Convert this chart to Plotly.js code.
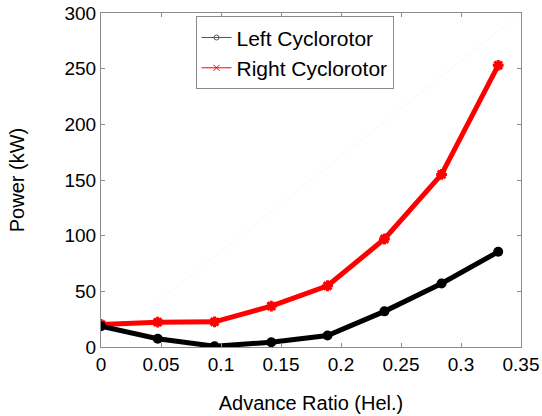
<!DOCTYPE html>
<html><head><meta charset="utf-8">
<script src="https://cdn.plot.ly/plotly-3.0.1.min.js"></script>
<style>html,body{margin:0;padding:0;background:#fff}#chart{width:542px;height:416px}</style>
</head><body><div id="chart"></div>
<script>
const advanceRatio = [0, 0.0473, 0.0946, 0.1419, 0.1888, 0.2362, 0.2838, 0.3310];
const leftPower  = [18.7, 7.4, 0.7, 4.3, 10.3, 32, 57, 85.5];
const rightPower = [20.2, 22.3, 22.6, 36.7, 55, 97, 155, 253];
const xTicks = [0, 0.05, 0.1, 0.15, 0.2, 0.25, 0.3, 0.35];
const xTickLabels = ['0', '0.05', '0.1', '0.15', '0.2', '0.25', '0.3', '0.35'];
const yTicks = [0, 50, 100, 150, 200, 250, 300];

const fam = 'Liberation Sans, Arial, Helvetica, sans-serif';
const tickFont = {family: fam, size: 19, color: '#000'};
const titleFont = {family: fam, size: 20, color: '#000'};
const legendFont = {family: fam, size: 21, color: '#000'};
const traces = [
  {x: advanceRatio, y: rightPower, mode: 'lines+markers', showlegend: false,
   line: {color: '#ff0000', width: 5}, marker: {symbol: 'asterisk', size: 9, color: '#ff0000', line: {color: '#ff0000', width: 3}}},
  {x: advanceRatio, y: leftPower, mode: 'lines+markers', showlegend: false,
   line: {color: '#000000', width: 5}, marker: {symbol: 'circle', size: 10, color: '#000000'}},
  {x: [null], y: [null], mode: 'lines+markers', name: 'Left Cyclorotor',
   line: {color: '#555', width: 1}, marker: {symbol: 'circle-open', size: 5, color: '#555', line: {width: 1}}},
  {x: [null], y: [null], mode: 'lines+markers', name: 'Right Cyclorotor',
   line: {color: '#ff0000', width: 1}, marker: {symbol: 'x-thin-open', size: 6, color: '#ff0000', line: {width: 1, color: '#ff0000'}}}
];
const axisCommon = {showline: true, linecolor: '#8c8c8c', linewidth: 1, mirror: 'ticks', ticks: 'inside',
  ticklen: 4, tickcolor: '#8c8c8c', showgrid: false, zeroline: false, tickfont: tickFont};
const layout = {
  width: 542, height: 416, paper_bgcolor: '#fff', plot_bgcolor: '#fff',
  margin: {l: 101, r: 21, t: 13, b: 69},
  font: tickFont,
  xaxis: Object.assign({}, axisCommon, {range: [0, 0.35], tickvals: xTicks, ticktext: xTickLabels,
    title: {text: 'Advance Ratio (Hel.)', font: titleFont, standoff: 22}}),
  yaxis: Object.assign({}, axisCommon, {range: [0, 300], tickvals: yTicks,
    title: {text: 'Power (kW)', font: titleFont, standoff: 34}}),
  legend: {x: 0.225, y: 0.99, xanchor: 'left', yanchor: 'top', bgcolor: '#fff', bordercolor: '#8c8c8c', borderwidth: 1,
    font: legendFont, tracegroupgap: 0, itemwidth: 30},
  shapes: [{type: 'line', xref: 'paper', yref: 'paper', x0: 0, y0: 0, x1: 1, y1: 1, line: {color: '#f8f8f8', width: 1}, layer: 'below'}]
};
Plotly.newPlot('chart', traces, layout, {displayModeBar: false, staticPlot: true});
</script></body></html>
